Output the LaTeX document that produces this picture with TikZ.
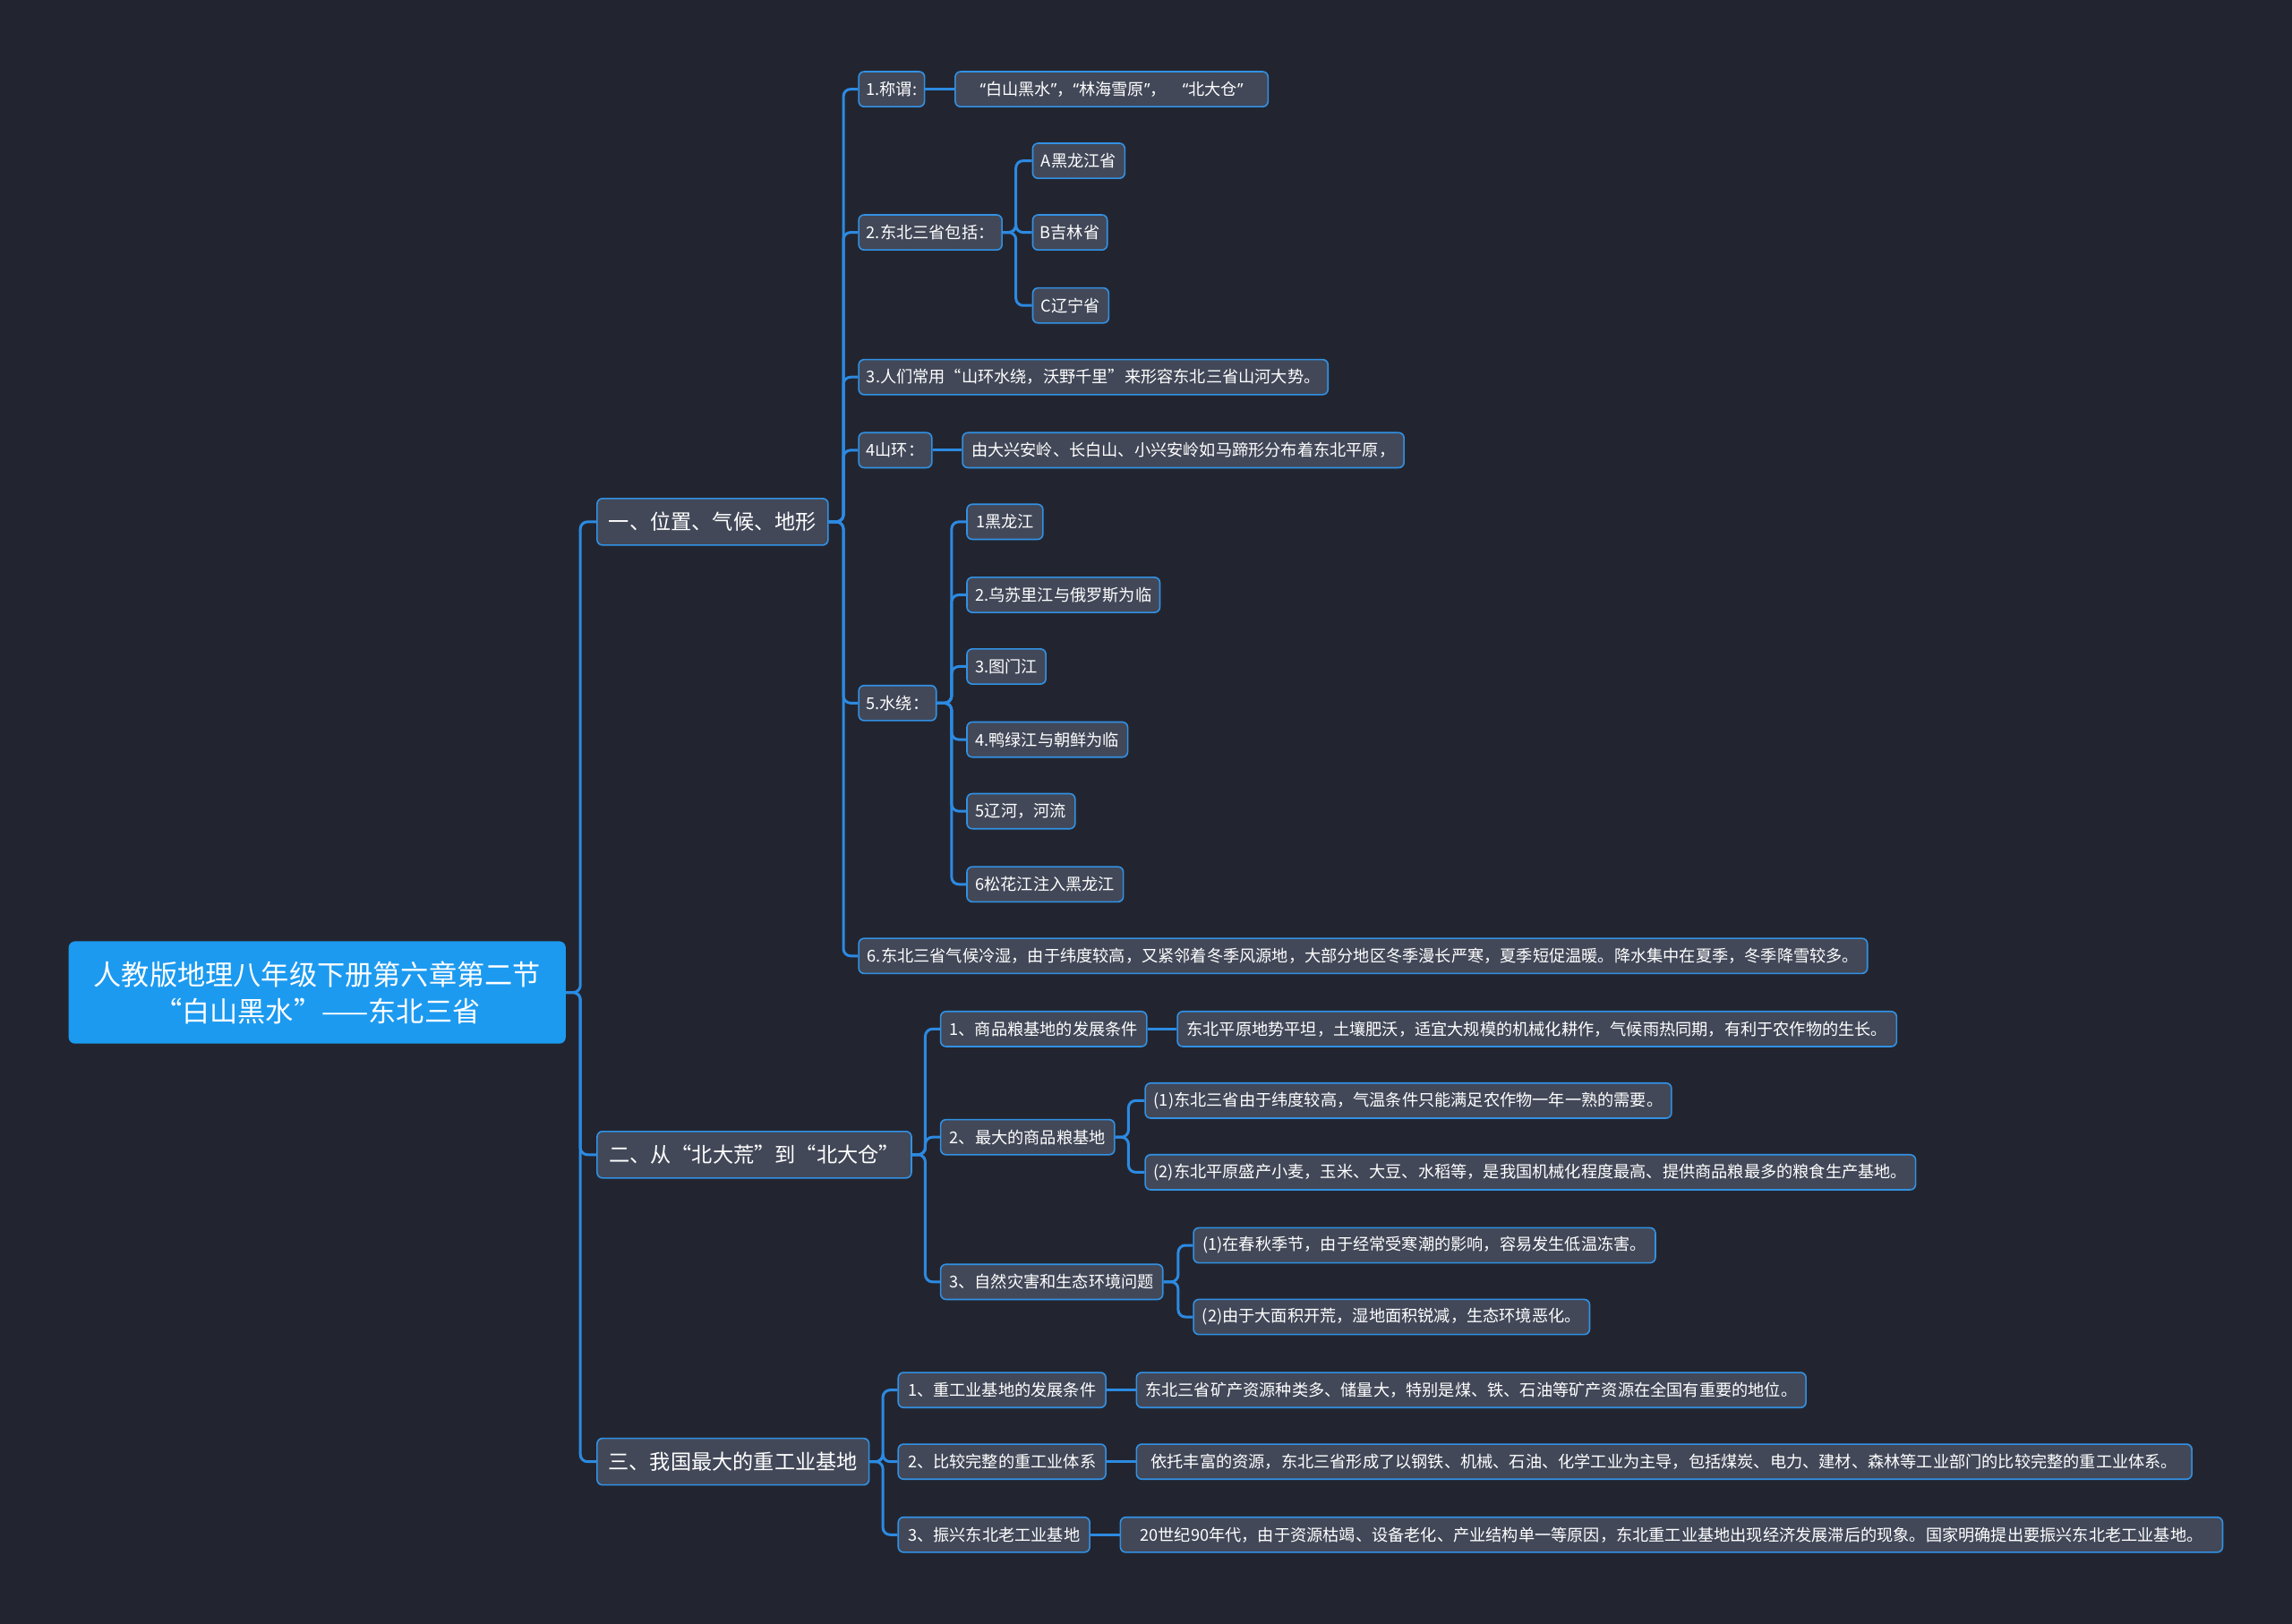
\documentclass[tikz,border=0pt]{standalone}
\usepackage{fontspec}
\setmainfont{Noto Sans CJK SC}
\newfontfamily\latq{Noto Sans}
\definecolor{bg}{RGB}{34,37,48}
\definecolor{nf}{RGB}{66,72,88}
\definecolor{bd}{RGB}{50,145,228}
\definecolor{ln}{RGB}{44,138,226}
\definecolor{rootf}{RGB}{28,154,240}
\newcommand\bx[5]{\node[box, minimum width={(#3-#2)*0.8163pt}] (#1) at (#2,#4) {#5};}
\newcommand\bxl[5]{\node[lbox, minimum width={(#3-#2)*0.8163pt}] (#1) at (#2,#4) {#5};}
\newcommand\cn[3]{\draw[conn] (#1.east) -- (#1.east -| #2) |- (#3.west);}
\newcommand\qlft{{\latq “}}
\newcommand\qrgt{{\latq ”}}
\begin{document}
\begin{tikzpicture}[x=0.8163pt,y=-0.8163pt,
  box/.style={draw=bd, fill=nf, line width=0.8pt, rounded corners=3pt, text=white,
    font=\fontsize{9.1}{11}\selectfont, inner xsep=4pt, inner ysep=0pt, anchor=west, minimum height=19.6pt},
  lbox/.style={box, font=\fontsize{11.6}{14}\selectfont, minimum height=26pt},
  rootbox/.style={fill=rootf, rounded corners=3.5pt, text=white, font=\fontsize{15.6}{20.5}\selectfont,
    align=center, minimum width={340*0.8163pt}, minimum height={70*0.8163pt}, inner sep=0pt},
  conn/.style={draw=ln, line width=1.5pt, rounded corners=4pt}]
\useasboundingbox[fill=bg] (0,0) rectangle (1568,1111);

\node[rootbox] (root) at (217,679) {人教版地理八年级下册第六章第二节\\“白山黑水”——东北三省};

\bxl{La}{408}{566}{357}{一、位置、气候、地形}
\bxl{Lb}{408}{623}{790}{二、从“北大荒”到“北大仓”}
\bxl{Lc}{408}{594}{1000}{三、我国最大的重工业基地}

\bx{A1}{587}{632}{61}{1.称谓:}
\bx{A1c}{653}{867}{61}{\qlft 白山黑水\qrgt，\qlft 林海雪原\qrgt，　\qlft 北大仓\qrgt}
\bx{A2}{587}{685}{159}{2.东北三省包括：}
\bx{A2a}{706}{769}{110}{A黑龙江省}
\bx{A2b}{706}{757}{159}{B吉林省}
\bx{A2c}{706}{758}{209}{C辽宁省}
\bx{A3}{587}{908}{258}{3.人们常用“山环水绕，沃野千里”来形容东北三省山河大势。}
\bx{A4}{587}{637}{308}{4山环：}
\bx{A4c}{658}{960}{308}{由大兴安岭、长白山、小兴安岭如马蹄形分布着东北平原，}
\bx{A5}{587}{640}{481}{5.水绕：}
\bx{W1}{661}{713}{357}{1黑龙江}
\bx{W2}{661}{793}{407}{2.乌苏里江与俄罗斯为临}
\bx{W3}{661}{715}{456}{3.图门江}
\bx{W4}{661}{771}{506}{4.鸭绿江与朝鲜为临}
\bx{W5}{661}{735}{555}{5辽河，河流}
\bx{W6}{661}{768}{605}{6松花江注入黑龙江}
\bx{A6}{587}{1277}{654}{6.东北三省气候冷湿，由于纬度较高，又紧邻着冬季风源地，大部分地区冬季漫长严寒，夏季短促温暖。降水集中在夏季，冬季降雪较多。}

\bx{B1}{643}{784}{704}{1、商品粮基地的发展条件}
\bx{B1c}{805}{1297}{704}{东北平原地势平坦，土壤肥沃，适宜大规模的机械化耕作，气候雨热同期，有利于农作物的生长。}
\bx{B2}{643}{762}{778}{2、最大的商品粮基地}
\bx{B2a}{783}{1143}{753}{(1)东北三省由于纬度较高，气温条件只能满足农作物一年一熟的需要。}
\bx{B2b}{783}{1310}{802}{(2)东北平原盛产小麦，玉米、大豆、水稻等，是我国机械化程度最高、提供商品粮最多的粮食生产基地。}
\bx{B3}{643}{795}{877}{3、自然灾害和生态环境问题}
\bx{B3a}{816}{1132}{852}{(1)在春秋季节，由于经常受寒潮的影响，容易发生低温冻害。}
\bx{B3b}{816}{1087}{901}{(2)由于大面积开荒，湿地面积锐减，生态环境恶化。}

\bx{C1}{614}{756}{951}{1、重工业基地的发展条件}
\bx{C1c}{777}{1235}{951}{东北三省矿产资源种类多、储量大，特别是煤、铁、石油等矿产资源在全国有重要的地位。}
\bx{C2}{614}{756}{1000}{2、比较完整的重工业体系}
\bx{C2c}{777}{1499}{1000}{依托丰富的资源，东北三省形成了以钢铁、机械、石油、化学工业为主导，包括煤炭、电力、建材、森林等工业部门的比较完整的重工业体系。}
\bx{C3}{614}{745}{1050}{3、振兴东北老工业基地}
\bx{C3c}{766}{1520}{1050}{20世纪90年代，由于资源枯竭、设备老化、产业结构单一等原因，东北重工业基地出现经济发展滞后的现象。国家明确提出要振兴东北老工业基地。}

\coordinate (t0) at (397,0);
\coordinate (ta) at (577,0);
\coordinate (ta2) at (695,0);
\coordinate (ta5) at (651,0);
\coordinate (tb) at (633,0);
\coordinate (tb2) at (772,0);
\coordinate (tb3) at (806,0);
\coordinate (tc) at (604,0);

\foreach \c in {La,Lb,Lc} {\cn{root}{t0}{\c}}
\foreach \c in {A1,A2,A3,A4,A5,A6} {\cn{La}{ta}{\c}}
\draw[conn] (A1.east) -- (A1c.west);
\draw[conn] (A4.east) -- (A4c.west);
\foreach \c in {A2a,A2b,A2c} {\cn{A2}{ta2}{\c}}
\foreach \c in {W1,W2,W3,W4,W5,W6} {\cn{A5}{ta5}{\c}}
\foreach \c in {B1,B2,B3} {\cn{Lb}{tb}{\c}}
\draw[conn] (B1.east) -- (B1c.west);
\foreach \c in {B2a,B2b} {\cn{B2}{tb2}{\c}}
\foreach \c in {B3a,B3b} {\cn{B3}{tb3}{\c}}
\foreach \c in {C1,C2,C3} {\cn{Lc}{tc}{\c}}
\draw[conn] (C1.east) -- (C1c.west);
\draw[conn] (C2.east) -- (C2c.west);
\draw[conn] (C3.east) -- (C3c.west);
\end{tikzpicture}
\end{document}
